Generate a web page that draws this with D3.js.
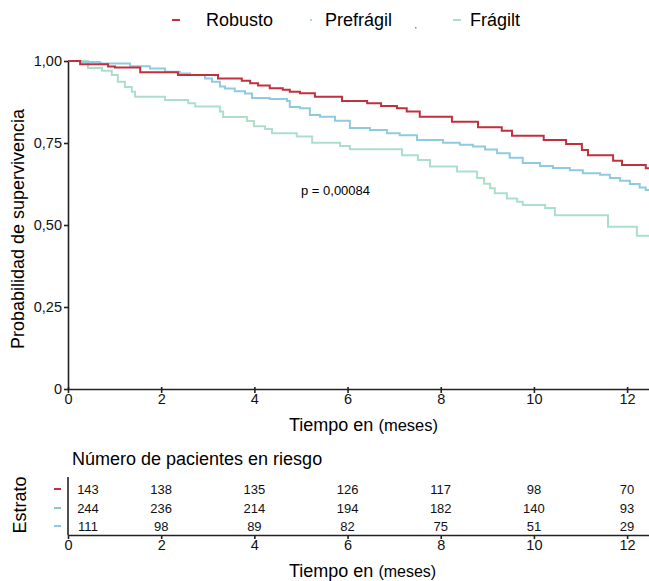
<!DOCTYPE html>
<html lang="es">
<head>
<meta charset="UTF-8">
<title>Curvas de supervivencia</title>
<script src="https://d3js.org/d3.v7.min.js"></script>
<style>
    body { margin: 0; background: #fff; }
    svg { display: block; font-family: "Liberation Sans", Arial, sans-serif; }
    .axis path, .axis line { stroke: #222; stroke-width: 1.6px; }
    .axis text { font-size: 14.5px; fill: #111; }
    .curve { fill: none; stroke-width: 2px; }
    .risk { font-size: 13px; fill: #111; text-anchor: middle; }
</style>
</head>
<body>
<svg width="649" height="581"></svg>
<script>
// curvas Kaplan-Meier: [meses, supervivencia]
const robusto = [
    [0, 1], [0.26, 0.990], [0.86, 0.983], [1.01, 0.980], [1.55, 0.966], [2.36, 0.957],
    [3.22, 0.947], [3.73, 0.940], [3.91, 0.932], [4.08, 0.925], [4.33, 0.917], [4.61, 0.912],
    [4.76, 0.906], [4.98, 0.902], [5.30, 0.891], [5.88, 0.878], [6.42, 0.871], [6.72, 0.863],
    [7.06, 0.856], [7.27, 0.846], [7.55, 0.830], [8.24, 0.815], [8.80, 0.798], [9.31, 0.787],
    [9.53, 0.772], [10.21, 0.759], [10.69, 0.747], [11.03, 0.729], [11.16, 0.713], [11.70, 0.696],
    [11.89, 0.683], [12.40, 0.673]
];
const prefragil = [
    [0, 1], [0.26, 0.997], [0.69, 0.992], [1.33, 0.984], [1.76, 0.977], [2.08, 0.967],
    [2.40, 0.962], [2.62, 0.957], [2.94, 0.947], [3.09, 0.937], [3.26, 0.922], [3.37, 0.916],
    [3.58, 0.908], [3.80, 0.901], [3.95, 0.887], [4.33, 0.884], [4.70, 0.878], [4.76, 0.860],
    [4.98, 0.856], [5.19, 0.835], [5.41, 0.830], [5.73, 0.818], [6.05, 0.796], [6.48, 0.790],
    [6.85, 0.780], [7.12, 0.774], [7.49, 0.759], [8.05, 0.751], [8.41, 0.745], [8.69, 0.739],
    [8.95, 0.730], [9.21, 0.719], [9.48, 0.705], [9.76, 0.689], [10.13, 0.680], [10.41, 0.674],
    [10.77, 0.667], [11.05, 0.658], [11.42, 0.653], [11.63, 0.643], [11.85, 0.635], [12.06, 0.625],
    [12.27, 0.614], [12.40, 0.607]
];
const fragil = [
    [0, 1], [0.43, 0.979], [0.73, 0.970], [0.94, 0.957], [1.07, 0.937], [1.22, 0.921],
    [1.37, 0.906], [1.44, 0.891], [2.08, 0.881], [2.58, 0.871], [2.73, 0.861], [3.26, 0.846],
    [3.33, 0.829], [3.84, 0.817], [3.99, 0.801], [4.23, 0.793], [4.38, 0.780], [4.91, 0.770],
    [5.24, 0.751], [5.84, 0.741], [6.05, 0.731], [7.17, 0.713], [7.51, 0.698], [7.77, 0.678],
    [8.35, 0.663], [8.78, 0.643], [8.93, 0.626], [9.06, 0.612], [9.16, 0.597], [9.42, 0.581],
    [9.64, 0.571], [9.76, 0.561], [10.24, 0.552], [10.45, 0.530], [11.59, 0.495], [12.21, 0.467]
];

const xTicks = [0, 2, 4, 6, 8, 10, 12];
const yTicks = [0, 0.25, 0.5, 0.75, 1];
const yTickLabels = ["0", "0,25", "0,50", "0,75", "1,00"];

// numero en riesgo
const riskTimes = [0, 2, 4, 6, 8, 10, 12];
const riskRobusto = [143, 138, 135, 126, 117, 98, 70];
const riskPrefragil = [244, 236, 214, 194, 182, 140, 93];
const riskFragil = [111, 98, 89, 82, 75, 51, 29];

const legendNames = ["Robusto", "Prefrágil", "Frágilt"];

const colRed = "#c1303f", colBlue = "#8fcbe0", colGreen = "#acdfca";

const svg = d3.select("svg");
const xMax = 12.47;

const x = d3.scaleLinear().domain([0, xMax]).range([68, 649]);
const y = d3.scaleLinear().domain([0, 1]).range([389, 61]);

// ejes
svg.append("g")
    .attr("class", "axis")
    .attr("transform", "translate(0,389)")
    .call(d3.axisBottom(x).tickValues(xTicks).tickSizeInner(4).tickSizeOuter(0).tickPadding(1))
    .call(g => g.selectAll(".tick line").attr("y1", -2));

svg.append("g")
    .attr("class", "axis")
    .attr("transform", "translate(68,0)")
    .call(d3.axisLeft(y).tickValues(yTicks).tickFormat((d, i) => yTickLabels[i])
        .tickSizeInner(4).tickSizeOuter(0).tickPadding(2));

// curvas
const line = d3.line()
    .x(d => x(d[0]))
    .y(d => y(d[1]))
    .curve(d3.curveStepAfter);

const series = [
    { data: fragil, color: colGreen },
    { data: prefragil, color: colBlue },
    { data: robusto, color: colRed }
];
series.forEach(s => {
    const pts = s.data.concat([[xMax, s.data[s.data.length - 1][1]]]);
    svg.append("path")
        .attr("class", "curve")
        .attr("d", line(pts))
        .attr("stroke", s.color);
});

// titulos ejes
svg.append("text")
    .attr("transform", "translate(24,229) rotate(-90)")
    .attr("text-anchor", "middle")
    .style("font-size", "18px")
    .text("Probabilidad de supervivencia");

const xt = svg.append("text")
    .attr("x", 289).attr("y", 431)
    .style("font-size", "18px");
xt.append("tspan").text("Tiempo en ");
xt.append("tspan").style("font-size", "16.5px").text("(meses)");

svg.append("text")
    .attr("x", 301).attr("y", 195)
    .style("font-size", "13px")
    .text("p = 0,00084");

// leyenda
const legend = [
    { name: legendNames[0], mx: 172, mw: 8, tx: 206, color: colRed },
    { name: legendNames[1], mx: 310, mw: 2, tx: 325, color: colGreen },
    { name: legendNames[2], mx: 453, mw: 8, tx: 470, color: colGreen }
];
legend.forEach(l => {
    svg.append("line")
        .attr("x1", l.mx).attr("x2", l.mx + l.mw)
        .attr("y1", 20).attr("y2", 20)
        .attr("stroke", l.color).attr("stroke-width", 2);
    svg.append("text")
        .attr("x", l.tx).attr("y", 26)
        .style("font-size", "18px")
        .text(l.name);
});
svg.append("rect").attr("x", 415).attr("y", 27).attr("width", 1.5).attr("height", 1.5).attr("fill", "#888");

// tabla de riesgo
svg.append("text")
    .attr("x", 72).attr("y", 465)
    .style("font-size", "18px")
    .text("Número de pacientes en riesgo");

svg.append("text")
    .attr("transform", "translate(26,505) rotate(-90)")
    .attr("text-anchor", "middle")
    .style("font-size", "18px")
    .text("Estrato");

svg.append("g")
    .attr("class", "axis")
    .attr("transform", "translate(0,535)")
    .call(d3.axisBottom(x).tickValues(xTicks).tickSizeInner(4).tickSizeOuter(0).tickPadding(1));

svg.append("line")
    .attr("x1", 68).attr("x2", 68)
    .attr("y1", 477).attr("y2", 535)
    .attr("stroke", "#222").attr("stroke-width", 1.6);

const rows = [
    { vals: riskRobusto, color: colRed, yy: 489 },
    { vals: riskPrefragil, color: "#84d0b9", yy: 508 },
    { vals: riskFragil, color: "#90c6e8", yy: 526 }
];
rows.forEach(r => {
    svg.append("line")
        .attr("x1", 54).attr("x2", 61)
        .attr("y1", r.yy).attr("y2", r.yy)
        .attr("stroke", r.color).attr("stroke-width", 2);
    svg.selectAll(null)
        .data(riskTimes)
        .enter().append("text")
        .attr("class", "risk")
        .attr("x", d => Math.max(x(d), 88))
        .attr("y", r.yy + 4.5)
        .text((d, i) => r.vals[i]);
});

const xt2 = svg.append("text")
    .attr("x", 289).attr("y", 577)
    .style("font-size", "18px");
xt2.append("tspan").text("Tiempo en ");
xt2.append("tspan").style("font-size", "16px").text("(meses)");
</script>
</body>
</html>
